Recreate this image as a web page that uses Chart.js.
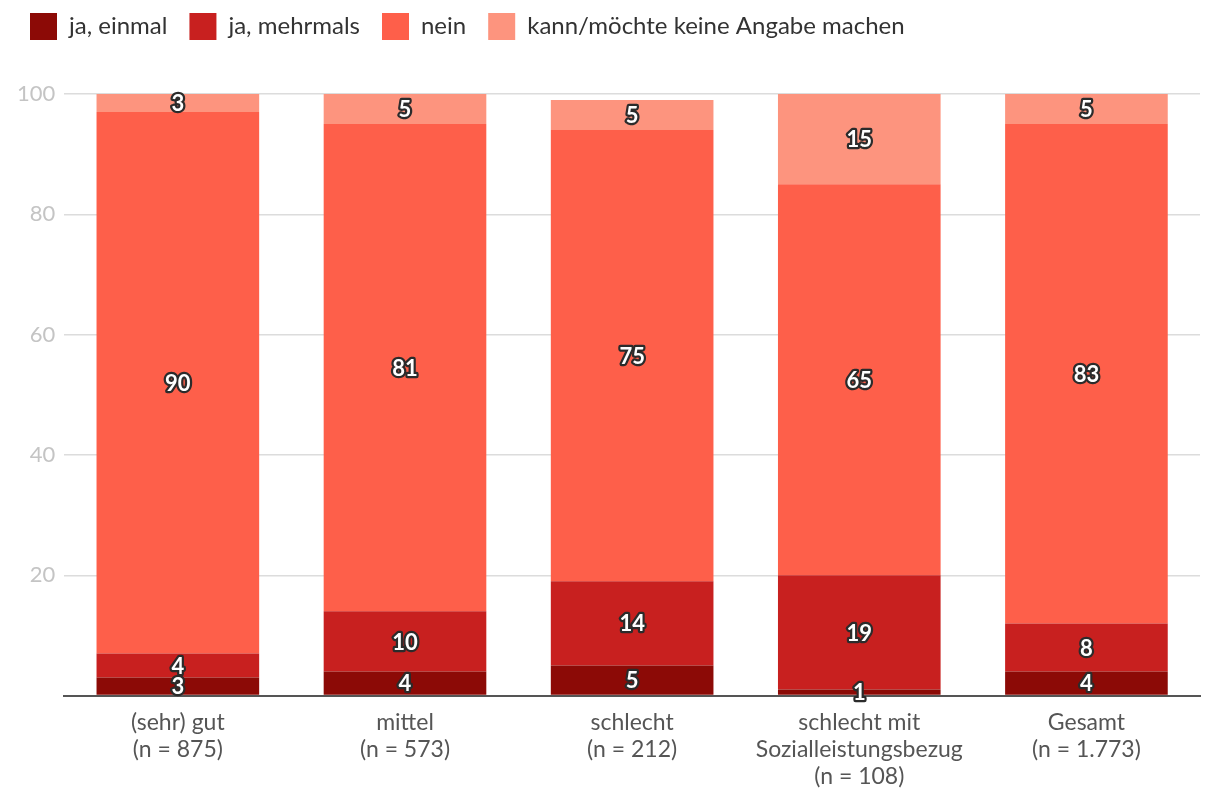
<!DOCTYPE html>
<html>
<head>
<meta charset="utf-8">
<script src="https://cdn.jsdelivr.net/npm/chart.js@4"></script>
<style>
  html, body { margin: 0; padding: 0; background: #fff; }
  #wrap { width: 1210px; height: 789px; position: relative; }
</style>
</head>
<body>
<div id="wrap"><canvas id="chart"></canvas></div>
<script>
/* ---------- Data ---------- */
const categories = [
    ["(sehr) gut", "(n = 875)"],
    ["mittel", "(n = 573)"],
    ["schlecht", "(n = 212)"],
    ["schlecht mit", "Sozialleistungsbezug", "(n = 108)"],
    ["Gesamt", "(n = 1.773)"]
];
const seriesNames = ["ja, einmal", "ja, mehrmals", "nein", "kann/möchte keine Angabe machen"];
const jaEinmal = [3, 4, 5, 1, 4];
const jaMehrmals = [4, 10, 14, 19, 8];
const nein = [90, 81, 75, 65, 83];
const keineAngabe = [3, 5, 5, 15, 5];
const yTicks = [0, 20, 40, 60, 80, 100];

const colors = ["#8c0a06", "#c8201f", "#fe5f4a", "#fd947e"];
const FONT = "Lato, 'Open Sans', sans-serif";

/* ---------- Extra room between legend and plot ---------- */
const legendGap = {
    id: "legendGap",
    beforeInit(chart) {
        const fit = chart.legend.fit;
        chart.legend.fit = function () {
            fit.bind(chart.legend)();
            this.height += 44;
        };
    }
};

/* ---------- Value labels: white bold text with dark outline ---------- */
const segmentLabels = {
    id: "segmentLabels",
    afterDatasetsDraw(chart) {
        const ctx = chart.ctx;
        ctx.save();
        ctx.font = "bold 22px " + FONT;
        ctx.textAlign = "center";
        ctx.textBaseline = "middle";
        ctx.lineJoin = "round";
        chart.data.datasets.forEach(function (ds, i) {
            const meta = chart.getDatasetMeta(i);
            meta.data.forEach(function (bar, j) {
                const v = ds.data[j];
                if (!v) return;
                const cy = (bar.y + bar.base) / 2 + 1;
                ctx.lineWidth = 4.5;
                ctx.strokeStyle = "#2b2b2b";
                ctx.strokeText(String(v), bar.x, cy);
                ctx.fillStyle = "#ffffff";
                ctx.fillText(String(v), bar.x, cy);
            });
        });
        ctx.restore();
    }
};

const seriesData = [jaEinmal, jaMehrmals, nein, keineAngabe];

new Chart(document.getElementById("chart").getContext("2d"), {
    type: "bar",
    data: {
        labels: categories,
        datasets: seriesData.map(function (d, i) {
            return {
                label: seriesNames[i],
                data: d,
                backgroundColor: colors[i],
                borderWidth: 0,
                barPercentage: 0.716,
                categoryPercentage: 1
            };
        })
    },
    options: {
        responsive: true,
        maintainAspectRatio: false,
        animation: false,
        layout: { padding: { left: 8, right: 10, top: -9, bottom: -6 } },
        plugins: {
            legend: {
                position: "top",
                align: "start",
                labels: {
                    boxWidth: 27,
                    boxHeight: 27,
                    padding: 22,
                    color: "#333",
                    font: { family: FONT, size: 24 }
                }
            },
            tooltip: { enabled: false }
        },
        scales: {
            x: {
                stacked: true,
                grid: { display: false },
                border: { display: true, color: "#555", width: 2 },
                ticks: { color: "#555", font: { family: FONT, size: 23, lineHeight: 1.18 }, padding: 5 }
            },
            y: {
                stacked: true,
                min: 0,
                max: 100,
                afterBuildTicks: function (axis) { axis.ticks = yTicks.map(function (v) { return { value: v }; }); },
                grid: { color: "#dcdcdc", lineWidth: 1.5, drawTicks: false },
                border: { display: false },
                ticks: {
                    color: "#c4c4c4",
                    font: { family: FONT, size: 22 },
                    padding: 9,
                    callback: function (v) { return v === 0 ? "" : v; }
                }
            }
        }
    },
    plugins: [legendGap, segmentLabels]
});
</script>
</body>
</html>
